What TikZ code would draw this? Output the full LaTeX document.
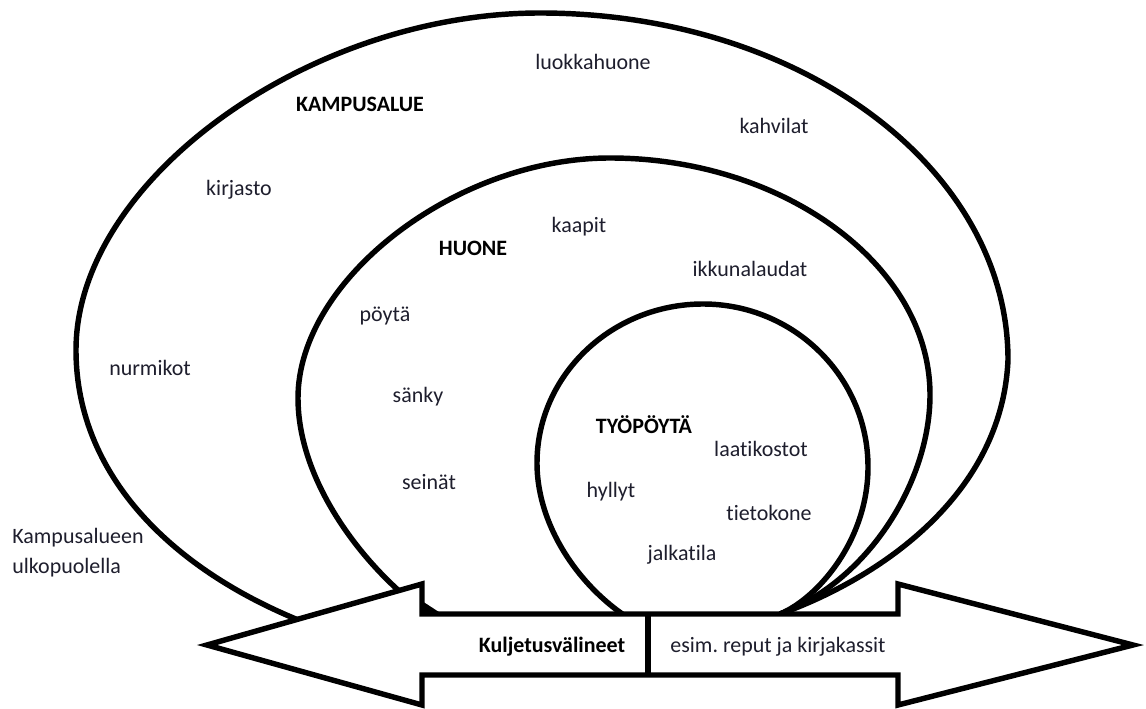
\documentclass[tikz,border=0pt]{standalone}
\usepackage{fontspec}
\setmainfont{Carlito}[Ligatures={NoCommon}]
\usepackage{tikz}
\usetikzlibrary{positioning,arrows.meta}
\definecolor{labeltext}{RGB}{30,30,45}
\definecolor{inkblack}{RGB}{0,0,0}

\begin{document}
\begin{tikzpicture}[
    x=0.02cm, y=-0.02cm,
    loopline/.style={draw=inkblack, line width=3.1pt, line join=round},
    place/.style={font=\fontsize{12.5}{17}\selectfont, text=labeltext, inner sep=0pt},
    zone/.style={font=\fontsize{12.5}{17}\selectfont\bfseries, text=inkblack, inner sep=0pt}
]
\useasboundingbox[fill=white] (0,0) rectangle (1146,709);

\coordinate (meet) at (780,614);

% KAMPUSALUE
\draw[loopline] (meet) .. controls (880,578) and (1002,495) .. (1008,360)
    .. controls (1008,168) and (800,13) .. (540,13)
    .. controls (308,13) and (76,181) .. (76,350)
    .. controls (76,480) and (180,580) .. (330,632);

% HUONE
\draw[loopline] (meet) .. controls (870,580) and (930,480) .. (930,395)
    .. controls (930,264) and (782,158) .. (610,158)
    .. controls (455,158) and (298,280) .. (298,398)
    .. controls (298,480) and (360,560) .. (412,602);

% TYOPOYTA
\draw[loopline] (meet) .. controls (818,598) and (868,540) .. (868,467)
    .. controls (868,377) and (794,304) .. (703,304)
    .. controls (612,304) and (537,375) .. (537,463)
    .. controls (537,530) and (585,595) .. (640,625);

% kuljetus arrow
\draw[loopline, fill=white, line join=miter]
    (207,645) -- (422,584) -- (422,614) -- (898,614) -- (898,584)
    -- (1133,645) -- (898,705) -- (898,675) -- (422,675) -- (422,705) -- cycle;
\fill[inkblack] (422,601) -- (422,614) -- (442,614) -- cycle;
\coordinate (divtop) at (648,614);
\coordinate (divbot) at (648,675);
\draw[loopline] (divtop) -- (divbot);

% labels
\node[place] (luokkahuone) at (593,62) {luokkahuone};
\node[zone] (kampusalue) at (360,104) {KAMPUSALUE};
\node[place] (kahvilat) at (774,126) {kahvilat};
\node[place] (kirjasto) at (239,190) {kirjasto};
\node[place] (kaapit) at (579,227) {kaapit};
\node[zone] (huone) at (473,248) {HUONE};
\node[place] (ikkunalaudat) at (750,269) {ikkunalaudat};
\node[place] (poyta) at (385,316) {pöytä};
\node[place] (nurmikot) at (150,368) {nurmikot};
\node[place] (sanky) at (418,397) {sänky};
\node[zone] (tyopoyta) at (644,425) {TYÖPÖYTÄ};
\node[place] (laatikostot) at (761,449) {laatikostot};
\node[place] (seinat) at (429,482) {seinät};
\node[place] (hyllyt) at (611,492) {hyllyt};
\node[place] (tietokone) at (769,513) {tietokone};
\node[place] (jalkatila) at (682,555) {jalkatila};
\node[place, anchor=west, align=left] (ulkopuolella) at (12,553) {Kampusalueen\\ulkopuolella};
\node[zone] (kuljetus) at (552,647) {Kuljetusvälineet};
\node[place] (reput) at (778,647) {esim.\ reput ja kirjakassit};
\end{tikzpicture}
\end{document}
